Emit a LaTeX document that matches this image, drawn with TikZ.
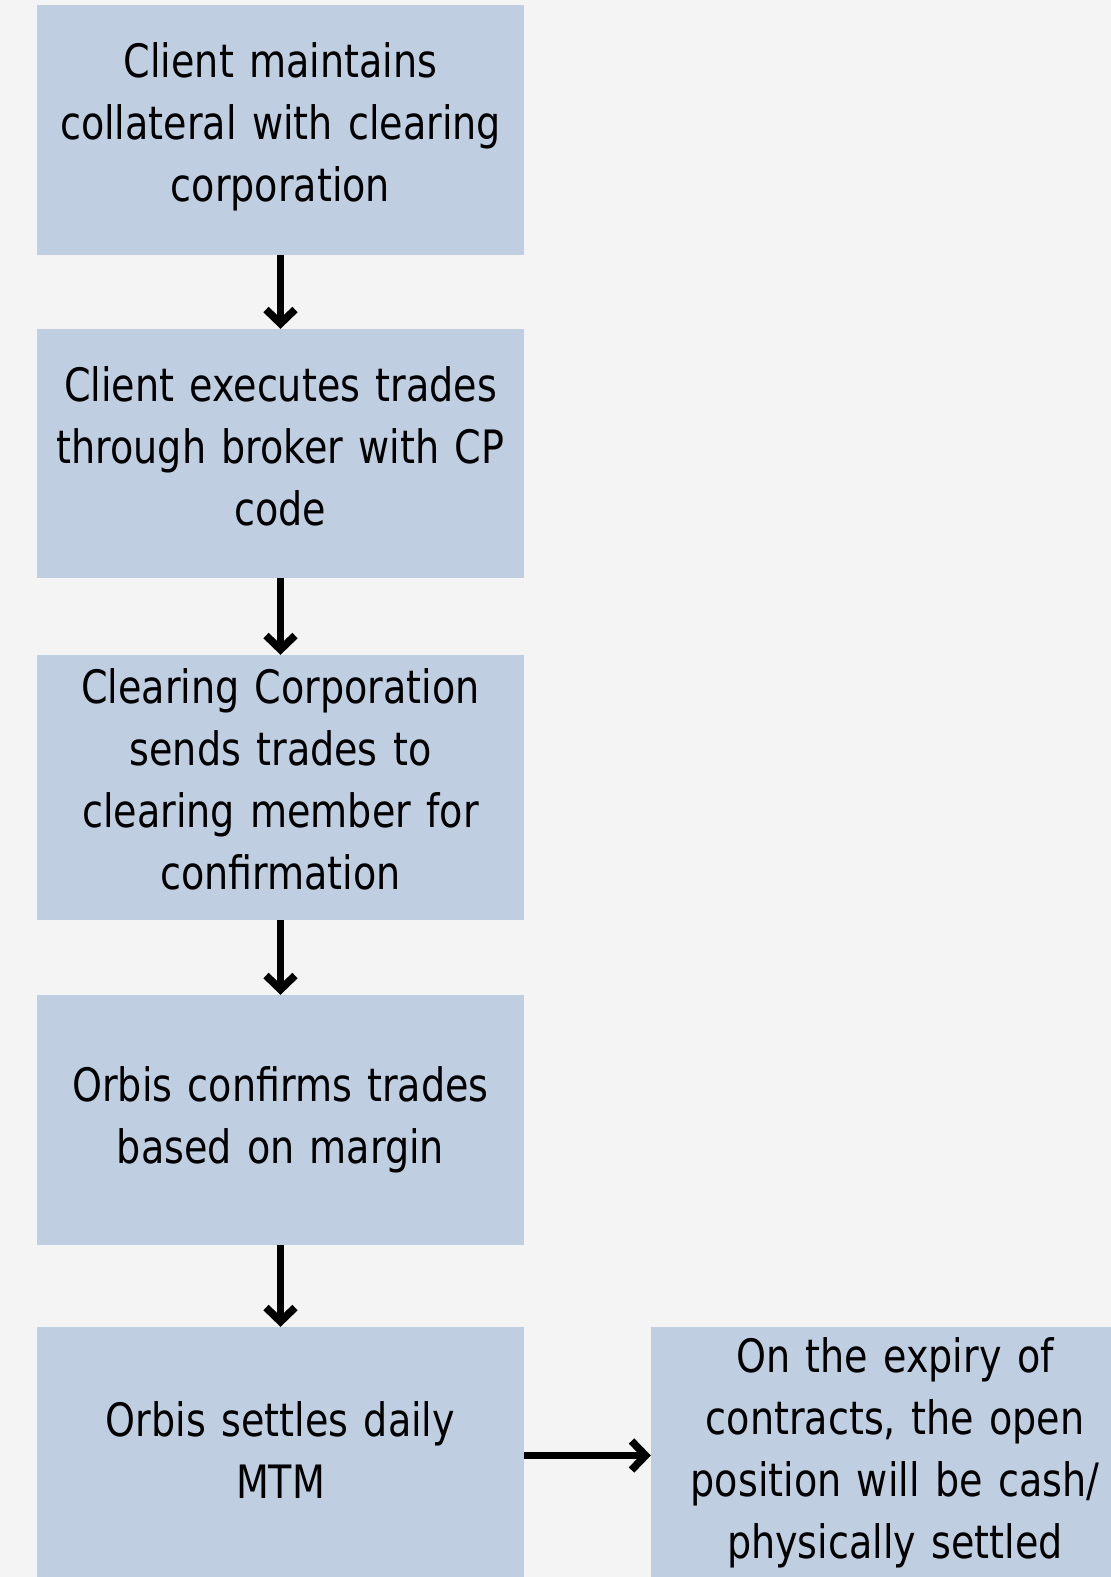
\documentclass[tikz,border=0pt]{standalone}
\usepackage{fontspec}
\setmainfont[FakeStretch=0.92]{DejaVu Sans Condensed}
\usetikzlibrary{arrows.meta}
\definecolor{bgc}{RGB}{244,244,244}
\definecolor{boxc}{RGB}{191,207,225}
\hyphenpenalty=10000\relax
\exhyphenpenalty=10000\relax
\tikzset{
  box/.style={fill=boxc, draw=none, minimum width=487pt, inner sep=0pt},
  txt/.style={inner sep=0pt, text width=500pt, align=center,
    font=\fontsize{46}{62}\selectfont},
  arr/.style={line width=7.6pt, -{Straight Barb[length=14pt,width=29pt]}}
}
\begin{document}
\begin{tikzpicture}[x=1pt,y=-1pt]
\useasboundingbox (0,0) rectangle (1111,1577);
\clip (0,0) rectangle (1111,1577);
\fill[bgc] (0,0) rectangle (1111,1577);
\node[box, minimum height=250pt] (b1) at (280.5,130) {};
\node[box, minimum height=249pt] (b2) at (280.5,453.5) {};
\node[box, minimum height=265pt] (b3) at (280.5,787.5) {};
\node[box, minimum height=250pt] (b4) at (280.5,1120) {};
\node[box, minimum height=250pt] (b5) at (280.5,1452) {};
\node[box, minimum width=486pt, minimum height=250pt] (b6) at (894,1452) {};
\node[txt] (t1) at ([yshift=3pt]b1.center) {Client maintains\\collateral with clearing\\corporation};
\node[txt] (t2) at ([yshift=7pt]b2.center) {Client executes trades\\through broker with CP\\code};
\node[txt] (t3) at ([yshift=8pt]b3.center) {Clearing Corporation\\sends trades to\\clearing member for\\confirmation};
\node[txt] (t4) at (b4.center) {Orbis confirms trades\\based on margin};
\node[txt] (t5) at ([yshift=2pt]b5.center) {Orbis settles daily\\MTM};
\node[txt] (t6) at ([xshift=1pt,yshift=-1pt]b6.center) {On the expiry of\\contracts, the open\\position will be cash/\\physically settled};
\draw[arr] (b1.south) -- (b2.north);
\draw[arr] (b2.south) -- (b3.north);
\draw[arr] (b3.south) -- (b4.north);
\draw[arr] (b4.south) -- (b5.north);
\draw[arr] ([yshift=-3.5pt]b5.east) -- ([yshift=-3.5pt]b6.west);
\end{tikzpicture}
\end{document}
